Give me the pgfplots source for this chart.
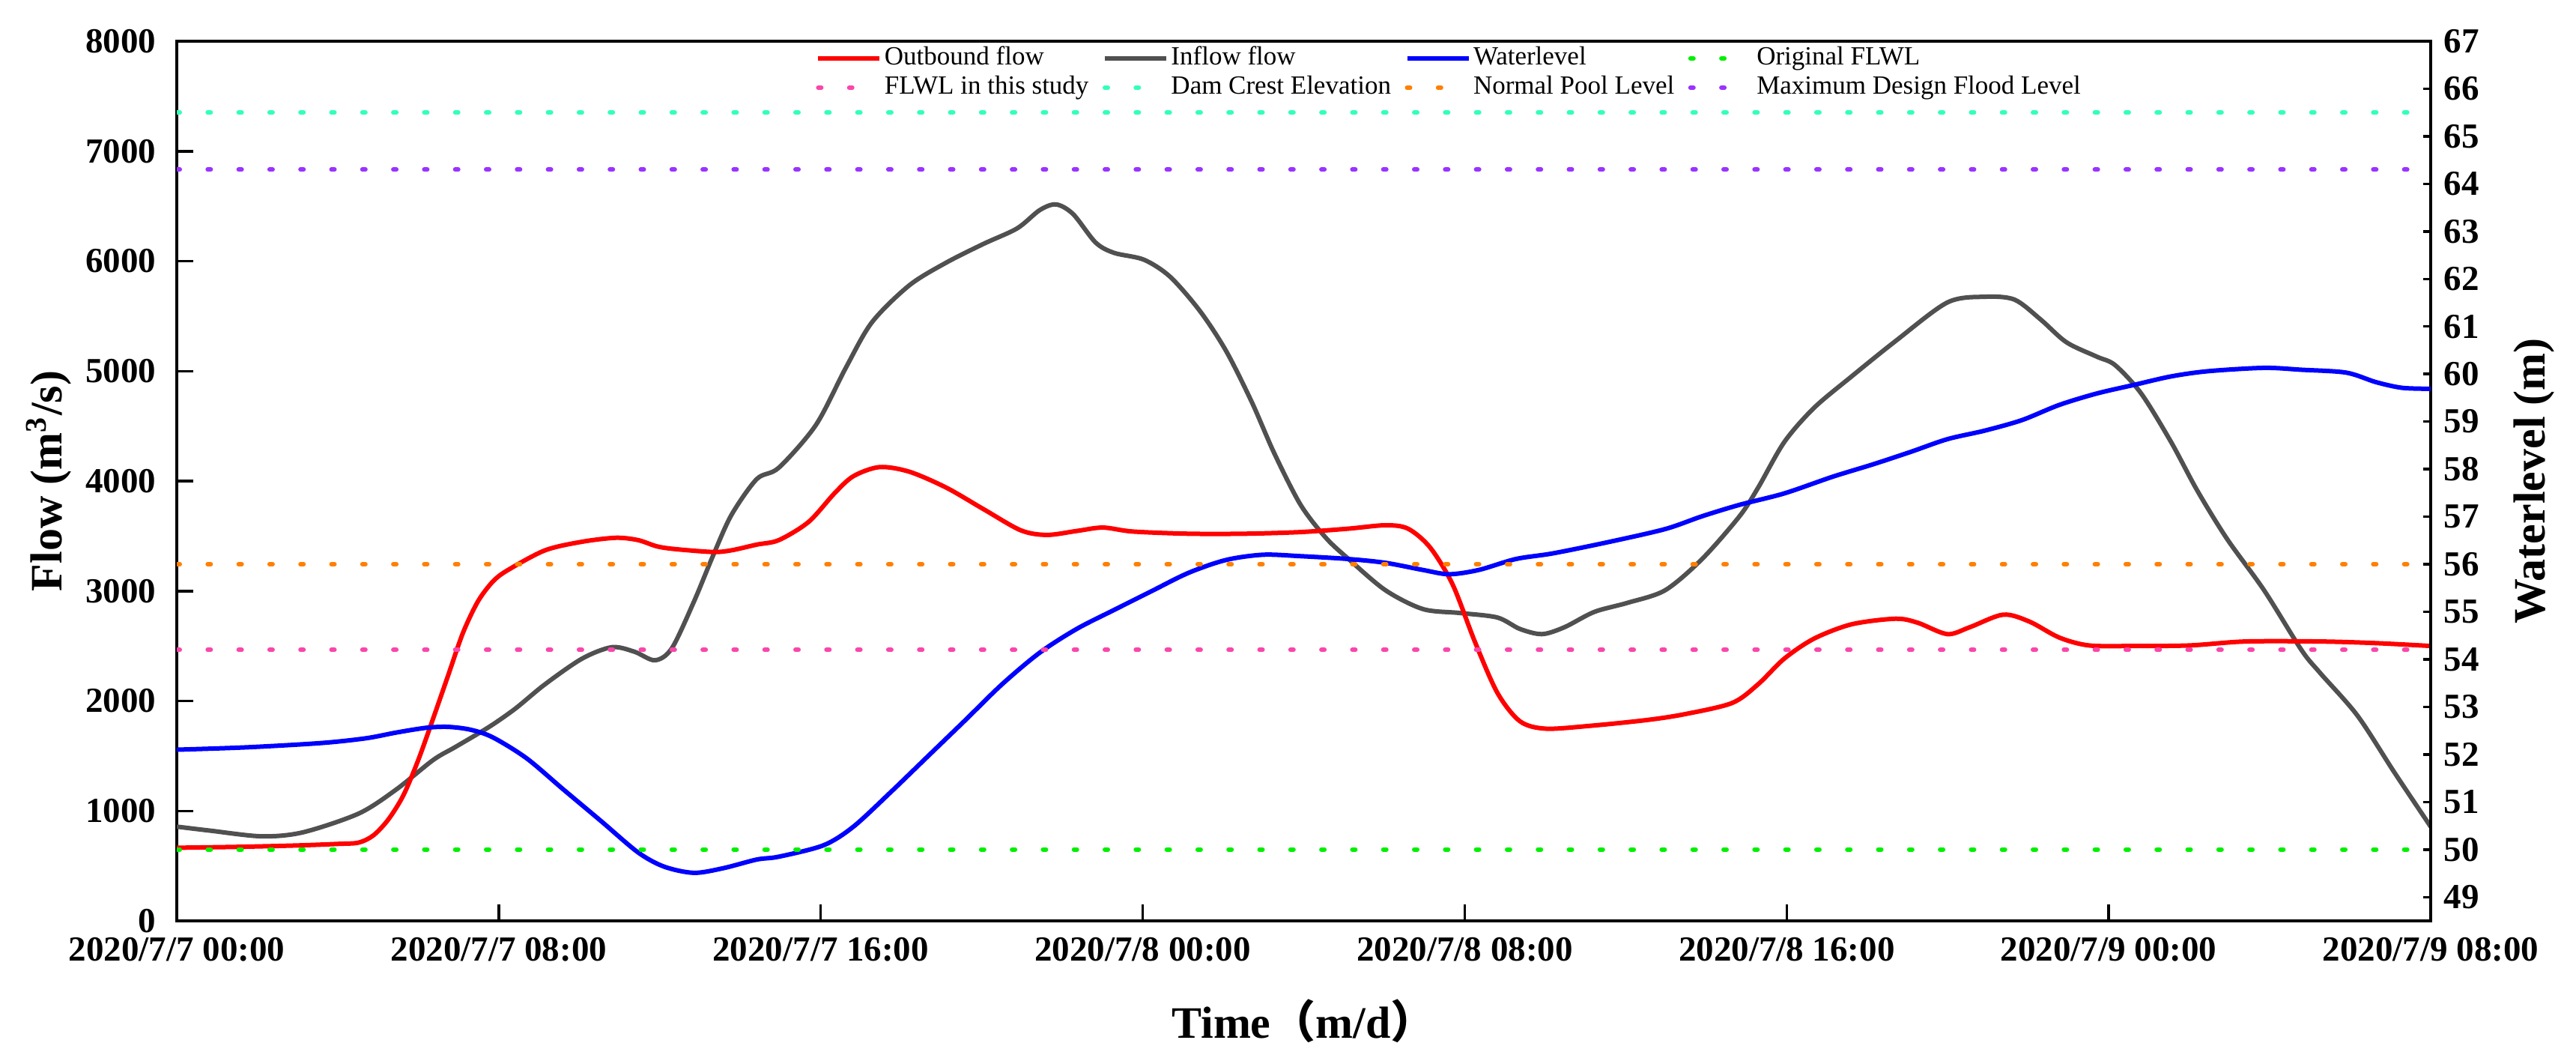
\documentclass[border=0pt]{standalone}
\usepackage{pgfplots}
\pgfplotsset{compat=1.18}
\usepackage{fontspec}
\setmainfont{Liberation Serif}
\newfontfamily\cjk{Noto Sans CJK SC}
\definecolor{cOut}{RGB}{255,0,0}
\definecolor{cIn}{RGB}{80,80,80}
\definecolor{cWL}{RGB}{0,0,255}
\definecolor{cOrig}{RGB}{0,240,0}
\definecolor{cStudy}{RGB}{250,70,170}
\definecolor{cCrest}{RGB}{51,255,187}
\definecolor{cNormal}{RGB}{255,128,0}
\definecolor{cMax}{RGB}{153,51,255}
\pgfplotsset{
  hl/.style={line width=1.2pt, line cap=round, dash pattern=on 0.8pt off 7.46pt},
  common/.style={
    scale only axis, width=601.8pt, height=234.8pt,
    xmin=0, xmax=56,
    tick align=inside,
    every tick/.style={black, line width=0.7pt},
    axis line style={line width=0.75pt},
    ticklabel style={font=\bfseries\fontsize{9.4}{11}\selectfont},
    /pgf/number format/assume math mode=true,
    /pgf/number format/1000 sep={},
  },
}
\begin{document}
\begin{tikzpicture}
\begin{axis}[
  common,
  ymin=0, ymax=8000,
  xtick={0,8,...,56},
  xticklabels={2020/7/7 00:00,2020/7/7 08:00,2020/7/7 16:00,2020/7/8 00:00,2020/7/8 08:00,2020/7/8 16:00,2020/7/9 00:00,2020/7/9 08:00},
  ytick={0,1000,...,8000},
  scaled y ticks=false,
  xtick pos=bottom, ytick pos=left,
  major tick length=4.4pt,
  yticklabel style={xshift=-2pt},
  xticklabel style={yshift=-1pt},
  xlabel={Time{\cjk（}m/d{\cjk）}},
  ylabel={Flow (m\textsuperscript{3}/s)},
  every axis x label/.style={at={(axis description cs:0.5,-0.1142)}, anchor=center, font=\bfseries\fontsize{12}{14}\selectfont},
  every axis y label/.style={at={(axis description cs:-0.0568,0.5)}, anchor=center, rotate=90, font=\bfseries\fontsize{12}{14}\selectfont},
]
% Inflow flow
\addplot[color=cIn, line width=1.2pt, smooth] coordinates {
(0,857) (0.82,821) (2.11,769) (3.13,805) (4.52,976) (5.45,1194) (6.37,1463) (6.93,1583)
(7.76,1764) (8.41,1930) (9.15,2152) (10.07,2385) (10.81,2489) (11.37,2448) (11.88,2370)
(12.30,2479) (12.85,2904) (13.32,3318) (13.78,3691) (14.41,4018) (14.96,4122) (15.88,4510)
(16.62,5028) (17.27,5443) (18.20,5780) (19.12,5987) (20.05,6158) (20.88,6298) (21.44,6464)
(21.85,6516) (22.27,6428) (22.83,6169) (23.29,6075) (24.03,6013) (24.68,5858) (25.42,5547)
(26.07,5184) (26.71,4718) (27.27,4251) (27.92,3785) (28.55,3484) (29.11,3292) (30.03,3007)
(30.96,2836) (31.88,2800) (32.81,2759) (33.37,2655) (33.92,2608) (34.48,2671) (35.22,2810)
(36.05,2893) (36.98,3007) (37.90,3292) (38.83,3681) (39.29,3940) (39.94,4355) (40.68,4666)
(41.61,4951) (42.70,5272) (43.99,5624) (44.92,5676) (45.66,5650) (46.31,5469) (46.95,5262)
(47.70,5132) (48.16,5054) (48.81,4795) (49.55,4355) (50.20,3914) (50.94,3474) (51.86,3007)
(52.79,2463) (53.25,2256) (54.18,1867) (55.10,1349) (56,857)
};
% Outbound flow
\addplot[color=cOut, line width=1.2pt, smooth] coordinates {
(0,665) (1.5,673) (3.0,686) (4.0,700) (4.52,712) (4.89,779) (5.26,924) (5.63,1142) (6.0,1463)
(6.37,1841) (6.74,2230) (7.11,2619) (7.48,2904) (7.85,3085) (8.22,3189) (9.15,3370) (10.07,3448)
(10.91,3484) (11.46,3463) (11.93,3406) (12.39,3381) (13.32,3355) (13.78,3370) (14.41,3422)
(14.96,3463) (15.70,3629) (16.34,3888) (16.81,4044) (17.46,4127) (18.20,4085) (19.12,3940)
(20.05,3743) (20.97,3552) (21.62,3510) (22.36,3546) (23.01,3577) (23.75,3541) (25.14,3521)
(26.53,3521) (27.92,3536) (29.11,3567) (30.03,3598) (30.59,3567) (31.14,3396) (31.70,3059)
(32.25,2541) (32.81,2075) (33.37,1816) (34.01,1748) (35.12,1774) (36.51,1826) (37.44,1878)
(38.64,1981) (39.29,2152) (39.94,2385) (40.68,2567) (41.61,2697) (42.70,2748) (43.25,2712)
(43.99,2608) (44.55,2671) (45.38,2785) (46.03,2722) (46.77,2577) (47.51,2505) (48.62,2500)
(50.01,2505) (51.40,2541) (53.25,2541) (54.64,2526) (56,2500)
};
\end{axis}
\begin{axis}[
  common,
  ymin=48.5, ymax=67,
  axis x line=none, axis y line*=right,
  ytick={49,50,...,67},
  major tick length=2pt,
  ylabel={Waterlevel (m)},
  every axis y label/.style={at={(axis description cs:1.0459,0.5)}, anchor=center, rotate=90, font=\bfseries\fontsize{12}{14}\selectfont},
  legend columns=4,
  legend style={at={(axis description cs:0.2833,1)}, anchor=north west, yshift=-0.5pt,
    draw=none, fill=none, inner sep=0pt, font=\fontsize{7}{8}\selectfont,
    nodes={inner sep=0.7pt},
    /tikz/every even column/.append style={column sep=3pt}},
  legend image code/.code={\draw[#1] (0pt,0pt) -- (16.4pt,0pt);},
  legend cell align=left,
]
\addlegendimage{color=cOut, line width=1.2pt}
\addlegendentry{Outbound flow}
\addlegendimage{color=cIn, line width=1.2pt}
\addlegendentry{Inflow flow}
\addplot[color=cWL, line width=1.2pt, smooth] coordinates {
(0,52.10) (1.74,52.15) (3.59,52.24) (4.70,52.34) (5.45,52.46) (6.19,52.56) (6.74,52.58)
(7.30,52.52) (7.85,52.36) (8.69,51.92) (9.61,51.26) (10.54,50.60) (11.46,49.94) (12.11,49.64)
(12.85,49.51) (13.59,49.61) (14.41,49.79) (14.96,49.85) (16.07,50.09) (16.81,50.48) (17.73,51.20)
(18.66,51.96) (19.59,52.72) (20.51,53.48) (21.44,54.14) (22.36,54.64) (23.29,55.04) (24.21,55.43)
(25.14,55.82) (26.07,56.09) (26.99,56.20) (27.92,56.17) (29.11,56.11) (30.03,56.03) (30.96,55.88)
(31.61,55.79) (32.35,55.88) (33.27,56.11) (34.20,56.23) (35.59,56.47) (36.98,56.74) (37.90,57.01)
(38.83,57.25) (39.94,57.49) (41.14,57.84) (42.14,58.10) (43.07,58.36) (43.99,58.63) (44.92,58.81)
(45.84,59.03) (46.77,59.35) (47.70,59.59) (48.62,59.77) (49.55,59.95) (50.47,60.06) (51.86,60.13)
(52.79,60.09) (53.90,60.03) (54.64,59.83) (55.29,59.71) (56,59.69)
};
\addlegendentry{Waterlevel}
\addplot[color=cOrig, hl] coordinates {(0,50) (56,50)};
\addlegendentry{Original FLWL}
\addplot[color=cStudy, hl] coordinates {(0,54.2) (56,54.2)};
\addlegendentry{FLWL in this study}
\addplot[color=cCrest, hl] coordinates {(0,65.5) (56,65.5)};
\addlegendentry{Dam Crest Elevation}
\addplot[color=cNormal, hl] coordinates {(0,56) (56,56)};
\addlegendentry{Normal Pool Level}
\addplot[color=cMax, hl] coordinates {(0,64.3) (56,64.3)};
\addlegendentry{Maximum Design Flood Level}
\end{axis}
\pgfresetboundingbox
\path (-47.2pt,-35pt) rectangle (640.6pt,245.8pt);
\end{tikzpicture}
\end{document}
